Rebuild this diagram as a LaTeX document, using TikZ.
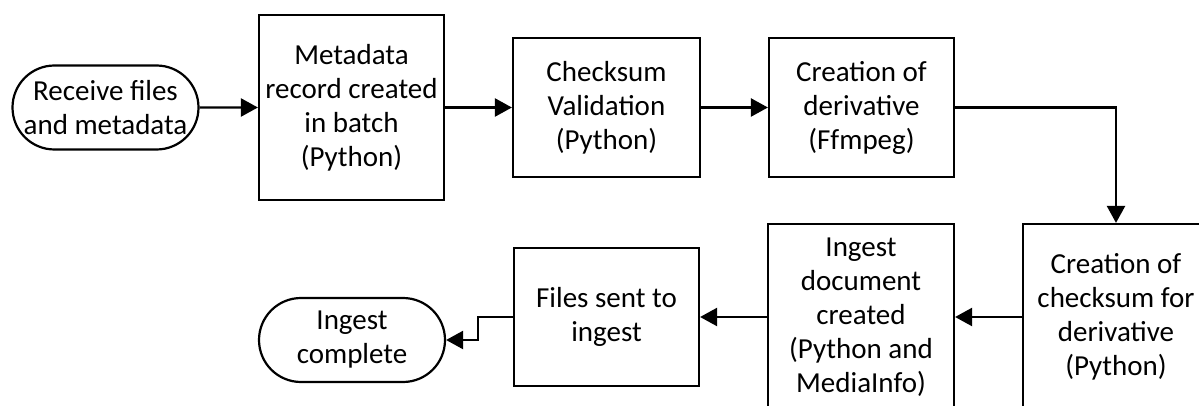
\documentclass[tikz,border=0pt]{standalone}
\usepackage{fontspec}
\setmainfont{Carlito}
\usetikzlibrary{arrows.meta,shapes.misc}
\begin{document}
\begin{tikzpicture}[x=1pt,y=-1pt,
  every node/.style={font=\fontsize{29}{34}\selectfont, align=center, inner sep=0pt},
  procbox/.style={draw, line width=2.2pt, rectangle},
  termbox/.style={draw, line width=2.2pt, rounded rectangle, minimum width=186pt, minimum height=84pt},
  flow/.style={line width=2.4pt, -{Triangle[length=17pt,width=18pt]}}
]
\useasboundingbox (0,0) rectangle (1199,406);
\clip (0,0) rectangle (1199,406);
\node[termbox] (start) at (105.5,107.5) {Receive files\\and metadata};
\node[procbox, minimum width=185pt, minimum height=185pt] (meta) at (351.5,107.5) {Metadata\\record created\\in batch\\(Python)};
\node[procbox, minimum width=187pt, minimum height=139pt] (check) at (606.5,107.5) {Checksum\\Validation\\(Python)};
\node[procbox, minimum width=185pt, minimum height=139pt] (deriv) at (861.5,107.5) {Creation of\\derivative\\(Ffmpeg)};
\node[procbox, minimum width=186pt, minimum height=186pt] (cks) at (1116,317) {Creation of\\checksum for\\derivative\\(Python)};
\node[procbox, minimum width=186pt, minimum height=186pt] (ingdoc) at (861,317) {Ingest\\document\\created\\(Python and\\MediaInfo)};
\node[procbox, minimum width=185pt, minimum height=138pt] (files) at (606.5,317) {Files sent to\\ingest};
\node[termbox] (done) at (352,340) {Ingest\\complete};
\draw[flow] (start) -- (meta);
\draw[flow] (meta) -- (check);
\draw[flow] (check) -- (deriv);
\draw[flow] (deriv.east) -| (cks.north);
\draw[flow] (cks.west) -- (ingdoc.east);
\draw[flow] (ingdoc.west) -- (files.east);
\draw[flow] (files.west) -- ++(-35,0) |- (done.east);
\end{tikzpicture}
\end{document}
